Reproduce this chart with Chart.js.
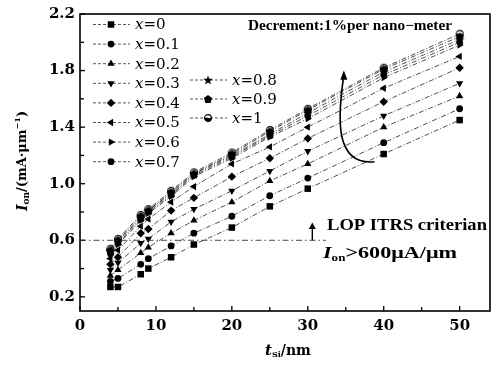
<!DOCTYPE html>
<html>
<head>
<meta charset="utf-8">
<script src="https://cdn.jsdelivr.net/npm/chart.js@4/dist/chart.umd.min.js"></script>
<style>
  html, body { margin: 0; padding: 0; background: #fff; }
  #wrap { width: 495px; height: 365px; }
</style>
</head>
<body>
<div id="wrap"><canvas id="chart" width="495" height="365"></canvas></div>
<script>
// silicon thickness (nm)
const tValues = [4, 5, 8, 9, 12, 15, 20, 25, 30, 40, 50];

// on-current I_on (mA/um), one list per Ge fraction x
const ionX00 = [0.27, 0.27, 0.36, 0.40, 0.48, 0.57, 0.69, 0.84, 0.965, 1.21, 1.45];
const ionX01 = [0.31, 0.33, 0.43, 0.47, 0.56, 0.65, 0.77, 0.915, 1.04, 1.29, 1.53];
const ionX02 = [0.35, 0.39, 0.51, 0.55, 0.65, 0.74, 0.87, 1.02, 1.14, 1.40, 1.62];
const ionX03 = [0.39, 0.44, 0.58, 0.61, 0.73, 0.82, 0.95, 1.09, 1.23, 1.48, 1.71];
const ionX04 = [0.43, 0.48, 0.65, 0.68, 0.81, 0.90, 1.05, 1.18, 1.32, 1.58, 1.82];
const ionX05 = [0.47, 0.53, 0.70, 0.75, 0.87, 0.98, 1.14, 1.26, 1.40, 1.675, 1.90];
const ionX06 = [0.50, 0.57, 0.74, 0.79, 0.91, 1.05, 1.18, 1.33, 1.46, 1.75, 1.98];
const ionX07 = [0.51, 0.58, 0.75, 0.80, 0.92, 1.06, 1.19, 1.34, 1.48, 1.77, 2.00];
const ionX08 = [0.52, 0.59, 0.76, 0.81, 0.93, 1.07, 1.20, 1.35, 1.50, 1.79, 2.02];
const ionX09 = [0.53, 0.60, 0.77, 0.81, 0.94, 1.07, 1.21, 1.37, 1.52, 1.81, 2.04];
const ionX10 = [0.54, 0.61, 0.78, 0.82, 0.95, 1.08, 1.22, 1.38, 1.53, 1.82, 2.06];

const fractions = ['0', '0.1', '0.2', '0.3', '0.4', '0.5', '0.6', '0.7', '0.8', '0.9', '1'];
const xTicks = [0, 5, 10, 15, 20, 25, 30, 35, 40, 45, 50];
const xTickLabels = [0, 10, 20, 30, 40, 50];
const yTicks = [0.2, 0.4, 0.6, 0.8, 1.0, 1.2, 1.4, 1.6, 1.8, 2.0, 2.2];
const yTickLabels = ['0.2', '0.6', '1.0', '1.4', '1.8', '2.2'];
const itrsLimit = 0.6;

const SERIF = "'DejaVu Serif', 'Liberation Serif', serif";
const TIMES = "'Liberation Serif', 'DejaVu Serif', serif";

// small canvases for the markers Chart.js has no built-in style for
function makeMarker(draw) {
    const c = document.createElement('canvas');
    c.width = 10; c.height = 10;
    const g = c.getContext('2d');
    g.fillStyle = '#000';
    g.strokeStyle = '#000';
    draw(g);
    return c;
}
const starMarker = makeMarker(g => {
    g.beginPath();
    for (let i = 0; i < 10; i++) {
        const r = i % 2 === 0 ? 5 : 2.1;
        const ang = -Math.PI / 2 + i * Math.PI / 5;
        g.lineTo(5 + r * Math.cos(ang), 5.4 + r * Math.sin(ang));
    }
    g.closePath();
    g.fill();
});
const pentMarker = makeMarker(g => {
    g.beginPath();
    for (let i = 0; i < 5; i++) {
        const ang = -Math.PI / 2 + i * 2 * Math.PI / 5;
        g.lineTo(5 + 4.3 * Math.cos(ang), 5.4 + 4.3 * Math.sin(ang));
    }
    g.closePath();
    g.fill();
});
const halfMarker = makeMarker(g => {
    g.beginPath();
    g.arc(5, 5, 3.4, 0, Math.PI);
    g.fill();
    g.beginPath();
    g.arc(5, 5, 3.4, 0, Math.PI * 2);
    g.lineWidth = 1.1;
    g.stroke();
});

const seriesValues = [ionX00, ionX01, ionX02, ionX03, ionX04, ionX05, ionX06, ionX07, ionX08, ionX09, ionX10];
const markerStyles = [
    { pointStyle: 'rect', rotation: 0, r: 4.6 },
    { pointStyle: 'circle', rotation: 0, r: 3.4 },
    { pointStyle: 'triangle', rotation: 0, r: 4.2 },
    { pointStyle: 'triangle', rotation: 180, r: 4.2 },
    { pointStyle: 'rectRot', rotation: 0, r: 4.2 },
    { pointStyle: 'triangle', rotation: -90, r: 4.2 },
    { pointStyle: 'triangle', rotation: 90, r: 4.2 },
    { pointStyle: 'circle', rotation: 0, r: 3.4 },
    { pointStyle: starMarker, rotation: 0, r: 5 },
    { pointStyle: pentMarker, rotation: 0, r: 5 },
    { pointStyle: halfMarker, rotation: 0, r: 5 }
];

const datasets = seriesValues.map((vals, i) => ({
    label: 'x=' + fractions[i],
    data: tValues.map((t, j) => ({ x: t, y: vals[j] })),
    borderColor: '#222',
    borderWidth: 0.8,
    borderDash: [5, 2, 1, 2],
    backgroundColor: '#000',
    pointBackgroundColor: '#000',
    pointBorderColor: '#000',
    pointBorderWidth: 0,
    pointStyle: markerStyles[i].pointStyle,
    pointRotation: markerStyles[i].rotation,
    pointRadius: markerStyles[i].r,
    tension: 0,
    fill: false
}));

// draw text made of runs (italic / sub / superscript), left aligned
function drawRuns(ctx, runs, x, y) {
    let cx = x;
    runs.forEach(r => {
        ctx.font = r.font;
        ctx.fillText(r.t, cx, y + (r.dy || 0));
        cx += ctx.measureText(r.t).width;
    });
    return cx - x;
}
function runsWidth(ctx, runs) {
    let w = 0;
    runs.forEach(r => { ctx.font = r.font; w += ctx.measureText(r.t).width; });
    return w;
}
// same, but stretched sideways to a given width (the scan is wide)
function drawRunsWidth(ctx, runs, x, y, width) {
    const sx = width / runsWidth(ctx, runs);
    ctx.save();
    ctx.translate(x, y);
    ctx.scale(sx, 1);
    drawRuns(ctx, runs, 0, 0);
    ctx.restore();
}

const deco = {
    id: 'deco',
    afterDraw(chart) {
        const ctx = chart.ctx, a = chart.chartArea;
        const xs = chart.scales.x, ys = chart.scales.y;
        const X = v => xs.getPixelForValue(v), Y = v => ys.getPixelForValue(v);
        ctx.save();
        ctx.fillStyle = '#000';
        ctx.strokeStyle = '#000';

        // frame
        ctx.lineWidth = 1.6;
        ctx.setLineDash([]);
        ctx.strokeRect(a.left, a.top, a.right - a.left, a.bottom - a.top);

        // inward ticks
        ctx.lineWidth = 1.3;
        xTicks.forEach(v => {
            const len = xTickLabels.includes(v) ? 5 : 4;
            ctx.beginPath(); ctx.moveTo(X(v), a.bottom); ctx.lineTo(X(v), a.bottom - len); ctx.stroke();
        });
        yTicks.forEach(v => {
            const len = yTickLabels.includes(v.toFixed(1)) ? 5 : 4;
            ctx.beginPath(); ctx.moveTo(a.left, Y(v)); ctx.lineTo(a.left + len, Y(v)); ctx.stroke();
        });

        // ITRS criterion line
        ctx.lineWidth = 0.9;
        ctx.strokeStyle = '#333';
        ctx.setLineDash([6, 3, 1.5, 3]);
        ctx.beginPath(); ctx.moveTo(a.left, Y(itrsLimit)); ctx.lineTo(X(32.4), Y(itrsLimit)); ctx.stroke();
        ctx.setLineDash([]);

        // small up arrow over the criterion line
        ctx.strokeStyle = '#000';
        ctx.lineWidth = 1.4;
        ctx.beginPath(); ctx.moveTo(X(30.6), Y(itrsLimit)); ctx.lineTo(X(30.6), Y(0.69)); ctx.stroke();
        ctx.beginPath();
        ctx.moveTo(X(30.6), Y(0.725)); ctx.lineTo(X(30.6) - 3.5, Y(0.68)); ctx.lineTo(X(30.6) + 3.5, Y(0.68));
        ctx.closePath(); ctx.fill();

        // curved arrow across the curves
        ctx.lineWidth = 1.6;
        ctx.beginPath();
        ctx.moveTo(X(38.8), Y(1.155));
        ctx.bezierCurveTo(X(33.6), Y(1.13), X(33.9), Y(1.45), X(34.7), Y(1.75));
        ctx.stroke();
        ctx.beginPath();
        ctx.moveTo(X(34.75), Y(1.80)); ctx.lineTo(X(34.75) - 3.5, Y(1.735)); ctx.lineTo(X(34.75) + 3.5, Y(1.735));
        ctx.closePath(); ctx.fill();

        // annotations
        ctx.textBaseline = 'middle';
        ctx.textAlign = 'left';
        drawRunsWidth(ctx, [{ t: 'Decrement:1%per nano\u2212meter', font: 'bold 14.5px ' + TIMES }], 248, 26, 204);
        drawRunsWidth(ctx, [{ t: 'LOP ITRS criterian', font: 'bold 16.5px ' + TIMES }], 327, 226, 160);
        drawRunsWidth(ctx, [
            { t: 'I', font: 'italic bold 17px ' + TIMES },
            { t: 'on', font: 'bold 10px ' + TIMES, dy: 4 },
            { t: '>600\u03bcA/\u03bcm', font: 'bold 17px ' + TIMES }
        ], 323, 254, 134);

        // legend
        const legendRows = [];
        for (let i = 0; i < 8; i++) legendRows.push({ i: i, x0: 93, y: 24.5 + 19.6 * i });
        for (let i = 8; i < 11; i++) legendRows.push({ i: i, x0: 190, y: 80 + 19 * (i - 8) });
        legendRows.forEach(row => {
            const ds = datasets[row.i];
            ctx.strokeStyle = '#444';
            ctx.lineWidth = 0.9;
            ctx.setLineDash([3, 2]);
            ctx.beginPath(); ctx.moveTo(row.x0, row.y); ctx.lineTo(row.x0 + 37, row.y); ctx.stroke();
            ctx.setLineDash([]);
            Chart.helpers.drawPoint(ctx, {
                pointStyle: ds.pointStyle, rotation: ds.pointRotation,
                radius: ds.pointRadius, borderWidth: 0
            }, row.x0 + 18, row.y);
            drawRuns(ctx, [
                { t: 'x', font: 'italic 15px ' + SERIF },
                { t: '=' + fractions[row.i], font: '15px ' + SERIF }
            ], row.x0 + 42, row.y + 1);
        });

        // axis titles
        const yTitle = [
            { t: 'I', font: 'italic bold 14px ' + SERIF },
            { t: 'on', font: 'bold 9px ' + SERIF, dy: 4 },
            { t: '/(mA\u00b7\u03bcm', font: 'bold 13px ' + SERIF },
            { t: '\u22121', font: 'bold 8px ' + SERIF, dy: -5 },
            { t: ')', font: 'bold 13px ' + SERIF }
        ];
        ctx.save();
        ctx.translate(23, 161);
        ctx.rotate(-Math.PI / 2);
        drawRuns(ctx, yTitle, -runsWidth(ctx, yTitle) / 2, 0);
        ctx.restore();
        const xTitle = [
            { t: 't', font: 'italic bold 15px ' + SERIF },
            { t: 'Si', font: 'bold 8px ' + SERIF, dy: 4 },
            { t: '/nm', font: 'bold 14px ' + SERIF }
        ];
        drawRuns(ctx, xTitle, 288 - runsWidth(ctx, xTitle) / 2, 351);
        ctx.restore();
    }
};

new Chart(document.getElementById('chart'), {
    type: 'line',
    data: { datasets: datasets },
    options: {
        responsive: false,
        animation: false,
        devicePixelRatio: 1,
        layout: { padding: { top: 14, right: 5, left: 0, bottom: 0 } },
        plugins: { legend: { display: false }, tooltip: { enabled: false } },
        scales: {
            x: {
                type: 'linear',
                min: 0,
                max: 54,
                afterBuildTicks: s => { s.ticks = xTicks.map(v => ({ value: v })); },
                afterFit: s => { s.height = 54; },
                grid: { display: false, drawTicks: false },
                border: { display: false },
                ticks: {
                    autoSkip: false, maxRotation: 0, padding: 6, color: '#000',
                    font: { family: SERIF, size: 15, weight: 'bold' },
                    callback: v => xTickLabels.includes(v) ? String(v) : ''
                }
            },
            y: {
                type: 'linear',
                min: 0.1,
                max: 2.2,
                afterBuildTicks: s => { s.ticks = yTicks.map(v => ({ value: v })); },
                afterFit: s => { s.width = 80; },
                grid: { display: false, drawTicks: false },
                border: { display: false },
                ticks: {
                    autoSkip: false, padding: 5, color: '#000',
                    font: { family: SERIF, size: 15, weight: 'bold' },
                    callback: v => yTickLabels.includes(v.toFixed(1)) ? v.toFixed(1) : ''
                }
            }
        }
    },
    plugins: [deco]
});
</script>
</body>
</html>
